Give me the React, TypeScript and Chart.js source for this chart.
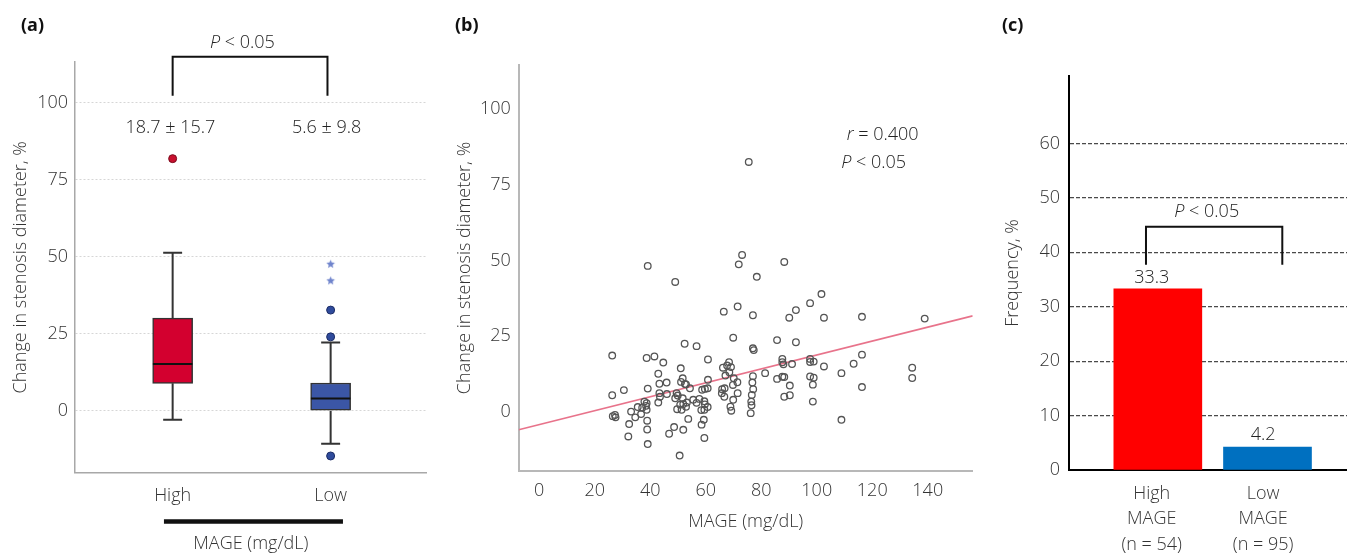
import React, { useEffect, useRef } from 'react';
import { Chart, registerables } from 'chart.js';

Chart.register(...registerables);

const FONT = "'Open Sans', 'Noto Sans', sans-serif";
const TEXT = '#333333';
const WEIGHT = 300;
Chart.defaults.font.family = FONT;
Chart.defaults.font.weight = WEIGHT as any;
Chart.defaults.color = TEXT;

// ---------- Panel (a): box plot ----------
const groups = ['High', 'Low'];
const boxQ1 = [8.9, 0.0];
const boxQ3 = [30.1, 9.0];
const boxMedian = [15.2, 4.0];
const whiskerMin = [-2.9, -10.7];
const whiskerMax = [51.3, 22.2];
const highOutliers = [81.9];
const lowOutliers = [32.7, 24.0, -14.7];
const lowExtremes = [47.6, 42.2];
const meanSd = ['18.7 ± 15.7', '5.6 ± 9.8'];
const yTicksA = [0, 25, 50, 75, 100];

// ---------- Panel (b): scatter ----------
const mage = [
  75.5, 39.1, 49.0, 73.1, 71.9, 88.3, 78.4, 66.5, 71.5, 77.0,
  90.1, 92.5, 101.7, 97.6, 102.6, 116.3, 138.9, 116.3, 97.6, 98.9,
  97.6, 102.6, 113.3, 108.9, 134.4, 134.4, 97.6, 98.9, 98.6, 116.3,
  98.6, 108.9, 69.9, 85.7, 92.5, 77.0, 77.3, 60.8, 68.4, 66.2,
  67.7, 69.1, 68.5, 67.1, 87.6, 87.6, 88.0, 91.1, 81.4, 77.0,
  76.8, 77.1, 76.6, 76.4, 76.5, 76.2, 85.7, 87.6, 88.3, 90.3,
  88.3, 90.3, 60.8, 70.1, 71.4, 69.8, 71.5, 65.9, 66.8, 65.8,
  66.7, 69.9, 68.9, 69.2, 58.7, 59.7, 60.7, 56.7, 59.5, 59.7,
  60.7, 58.4, 59.5, 59.3, 58.5, 59.5, 52.4, 56.7, 26.3, 38.7,
  41.5, 44.7, 42.9, 51.0, 51.7, 51.1, 52.5, 43.3, 45.9, 30.5,
  26.3, 39.1, 43.3, 46.0, 49.5, 49.9, 49.0, 54.3, 52.9, 55.5,
  57.7, 51.7, 51.9, 50.8, 52.9, 51.3, 49.7, 53.2, 37.9, 38.7,
  38.5, 35.5, 37.1, 38.7, 33.1, 36.7, 34.6, 26.5, 27.5, 27.3,
  38.9, 53.7, 32.4, 48.6, 51.9, 38.9, 46.8, 32.1, 39.1, 50.6,
  42.9, 43.5,
];
const stenosisChange = [
  82.5, 48.2, 42.9, 51.8, 48.7, 49.5, 44.6, 33.1, 34.8, 31.9,
  31.1, 33.6, 38.9, 35.9, 31.1, 31.4, 30.8, 18.9, 17.5, 16.6,
  16.5, 15.0, 15.9, 12.8, 14.6, 11.2, 11.7, 11.3, 9.0, 8.2,
  3.4, -2.6, 24.5, 23.7, 23.0, 21.0, 20.4, 17.3, 16.4, 14.6,
  15.3, 14.8, 13.1, 12.0, 17.5, 16.4, 15.7, 15.8, 12.8, 11.8,
  9.7, 7.5, 5.6, 3.4, 2.2, -0.4, 10.9, 11.6, 11.5, 8.7,
  5.0, 5.5, 10.6, 11.1, 9.8, 8.9, 6.2, 7.5, 7.8, 6.2,
  5.0, 4.0, 1.7, 0.4, 7.3, 7.6, 7.8, 3.0, 3.5, 2.5,
  1.6, 0.6, 0.7, -2.6, -4.2, -8.6, 22.5, 21.7, 18.6, 17.8,
  18.3, 16.3, 12.6, 14.4, 11.1, 9.9, 9.2, 9.3, 9.7, 7.2,
  5.5, 7.7, 6.2, 5.9, 6.2, 5.4, 4.5, 7.8, 9.1, 4.0,
  4.3, 4.5, 2.6, 2.4, 1.7, 0.7, 0.9, 3.1, 3.4, 2.9,
  2.0, 1.6, 1.4, 0.7, 0.1, -0.7, -1.8, -1.4, -1.8, -1.0,
  -2.9, -2.3, -4.0, -5.0, -5.9, -5.8, -7.2, -8.1, -10.6, -14.4,
  3.1, 5.0,
];
const fitLineX = [-7.4, 156.2];
const fitLineY = [-5.9, 31.7];
const corrText = '0.400';

// ---------- Panel (c): bars ----------
const freqGroups = [['High', 'MAGE', '(n = 54)'], ['Low', 'MAGE', '(n = 95)']];
const frequency = [33.3, 4.2];
const pText = '< 0.05';

type Seg = { t: string; italic?: boolean };
type Note = { x: number; y: number; segs: Seg[]; align?: 'left' | 'center' };

function notesPlugin(items: Note[]) {
  return {
    id: 'notes',
    afterDatasetsDraw(chart: any) {
      const { ctx } = chart;
      const xs = chart.scales.x;
      const ys = chart.scales.y;
      ctx.save();
      ctx.fillStyle = '#222';
      ctx.textBaseline = 'middle';
      ctx.textAlign = 'left';
      const fontOf = (s: Seg) => `${s.italic ? 'italic ' : ''}${WEIGHT} 18px ${FONT}`;
      for (const n of items) {
        const px = xs.getPixelForValue(n.x);
        const py = ys.getPixelForValue(n.y);
        let total = 0;
        for (const s of n.segs) {
          ctx.font = fontOf(s);
          total += ctx.measureText(s.t).width;
        }
        let cx = n.align === 'left' ? px : px - total / 2;
        for (const s of n.segs) {
          ctx.font = fontOf(s);
          ctx.fillText(s.t, cx, py);
          cx += ctx.measureText(s.t).width;
        }
      }
      ctx.restore();
    },
  };
}

function makeStar(color: string, r: number) {
  const c = document.createElement('canvas');
  const s = Math.ceil(r * 2 + 2);
  c.width = s;
  c.height = s;
  const g = c.getContext('2d')!;
  g.fillStyle = color;
  g.beginPath();
  for (let k = 0; k < 10; k++) {
    const ang = -Math.PI / 2 + (k * Math.PI) / 5;
    const rr = k % 2 === 0 ? r : r * 0.45;
    const x = s / 2 + rr * Math.cos(ang);
    const y = s / 2 + rr * Math.sin(ang);
    if (k === 0) g.moveTo(x, y);
    else g.lineTo(x, y);
  }
  g.closePath();
  g.fill();
  return c;
}

const baseOpts = {
  animation: false as const,
  responsive: false,
  maintainAspectRatio: false,
  events: [] as any[],
};

function configA(): any {
  const whiskers: any[] = [];
  const medians: any[] = [];
  groups.forEach((_, i) => {
    const cx = i + 1;
    whiskers.push({ x: cx, y: whiskerMin[i] }, { x: cx, y: boxQ1[i] }, { x: cx, y: null });
    whiskers.push({ x: cx, y: boxQ3[i] }, { x: cx, y: whiskerMax[i] }, { x: cx, y: null });
    whiskers.push({ x: cx - 0.06, y: whiskerMin[i] }, { x: cx + 0.06, y: whiskerMin[i] }, { x: cx, y: null });
    whiskers.push({ x: cx - 0.06, y: whiskerMax[i] }, { x: cx + 0.06, y: whiskerMax[i] }, { x: cx, y: null });
    medians.push({ x: cx - 0.125, y: boxMedian[i] }, { x: cx + 0.125, y: boxMedian[i] }, { x: cx, y: null });
  });
  const star = makeStar('#6f84cc', 4.5);
  return {
    type: 'bar',
    data: {
      datasets: [
        {
          type: 'bar',
          data: groups.map((_, i) => ({ x: i + 1, y: [boxQ1[i], boxQ3[i]] })),
          backgroundColor: ['#d3002f', '#3b56a6'],
          borderColor: '#333',
          borderWidth: 1.5,
          borderSkipped: false,
          barThickness: 40,
          order: 3,
        },
        {
          type: 'line', data: whiskers, borderColor: '#333', borderWidth: 2,
          pointRadius: 0, spanGaps: false, clip: false, order: 2,
        },
        {
          type: 'line', data: medians, borderColor: '#111', borderWidth: 2,
          pointRadius: 0, spanGaps: false, clip: false, order: 1,
        },
        {
          type: 'line', showLine: false, data: highOutliers.map((y) => ({ x: 1, y })),
          pointRadius: 4, pointBackgroundColor: '#c8102e', pointBorderColor: '#7a0a1c', pointBorderWidth: 1, order: 1,
        },
        {
          type: 'line', showLine: false, data: lowOutliers.map((y) => ({ x: 2, y })),
          pointRadius: 4, pointBackgroundColor: '#2f4b9c', pointBorderColor: '#1c2d66', pointBorderWidth: 1, order: 1,
        },
        {
          type: 'line', showLine: false, data: lowExtremes.map((y) => ({ x: 2, y })),
          pointStyle: star, pointRadius: 5, order: 1,
        },
        {
          type: 'line',
          data: [{ x: 1.0, y: 102.3 }, { x: 1.0, y: 115.0 }, { x: 1.98, y: 115.0 }, { x: 1.98, y: 102.3 }],
          borderColor: '#111', borderWidth: 2, pointRadius: 0, clip: false, order: 1,
        },
        {
          type: 'line',
          data: [{ x: 0.945, y: -36 }, { x: 2.078, y: -36 }],
          borderColor: '#111', borderWidth: 4.5, pointRadius: 0, clip: false, order: 1,
        },
      ],
    },
    options: {
      ...baseOpts,
      layout: { padding: { top: 62, right: 13.3, bottom: 0, left: 0 } },
      plugins: { legend: { display: false }, tooltip: { enabled: false } },
      scales: {
        x: {
          type: 'linear', min: 0.382, max: 2.608, offset: false,
          afterBuildTicks: (s: any) => { s.ticks = groups.map((_, i) => ({ value: i + 1 })); },
          afterFit: (s: any) => { s.height = 82.4; },
          ticks: {
            callback: (_v: any, i: number) => groups[i] ?? '',
            font: { size: 18 }, color: TEXT, padding: 12, autoSkip: false, maxRotation: 0,
          },
          grid: { display: false, drawTicks: false, offset: false },
          border: { color: '#a8a8a8', width: 1.5 },
          title: { display: true, text: 'MAGE (mg/dL)', font: { size: 18 }, color: TEXT, padding: { top: 0, bottom: 0 } },
        },
        y: {
          type: 'linear', min: -20.1, max: 113.3,
          afterBuildTicks: (s: any) => { s.ticks = yTicksA.map((v) => ({ value: v })); },
          afterFit: (s: any) => { s.width = 75; },
          ticks: { font: { size: 18 }, color: TEXT, padding: 7 },
          grid: { color: '#d6d6d6', lineWidth: 1, drawTicks: false },
          border: { color: '#a8a8a8', width: 1.5, dash: [2, 2] },
          title: {
            display: true, text: 'Change in stenosis diameter, %', font: { size: 18 }, color: TEXT,
            padding: { top: 10, bottom: 0 },
          },
        },
      },
    },
    plugins: [
      notesPlugin([
        { x: 1.442, y: 119.4, segs: [{ t: 'P', italic: true }, { t: ' ' + pText }] },
        { x: 0.986, y: 91.8, segs: [{ t: meanSd[0] }] },
        { x: 1.975, y: 91.8, segs: [{ t: meanSd[1] }] },
      ]),
    ],
  };
}

function configB(): any {
  return {
    type: 'scatter',
    data: {
      datasets: [
        {
          type: 'line',
          data: fitLineX.map((x, i) => ({ x, y: fitLineY[i] })),
          borderColor: '#e8738b', borderWidth: 1.6, pointRadius: 0, order: 2,
        },
        {
          type: 'scatter',
          data: mage.map((x, i) => ({ x, y: stenosisChange[i] })),
          pointRadius: 3.3, pointBorderWidth: 1.3,
          pointBorderColor: '#555', pointBackgroundColor: 'rgba(255,255,255,0)', order: 1,
        },
      ],
    },
    options: {
      ...baseOpts,
      layout: { padding: { top: 65, right: 17.3, bottom: 22, left: 0 } },
      plugins: { legend: { display: false }, tooltip: { enabled: false } },
      scales: {
        x: {
          type: 'linear', min: -7.4, max: 156.2, offset: false,
          afterFit: (s: any) => { s.height = 62; },
          ticks: { stepSize: 20, includeBounds: false, font: { size: 18 }, color: TEXT, padding: 9, maxRotation: 0 },
          grid: { display: false, drawTicks: false },
          border: { color: '#b8b8b8', width: 2 },
          title: { display: true, text: 'MAGE (mg/dL)', font: { size: 18 }, color: TEXT, padding: { top: 0, bottom: 0 } },
        },
        y: {
          type: 'linear', min: -19.5, max: 114.5,
          afterFit: (s: any) => { s.width = 78.7; },
          ticks: { stepSize: 25, includeBounds: false, font: { size: 18 }, color: TEXT, padding: 8 },
          grid: { display: false, drawTicks: false },
          border: { color: '#b8b8b8', width: 2 },
          title: {
            display: true, text: 'Change in stenosis diameter, %', font: { size: 18 }, color: TEXT,
            padding: { top: 14, bottom: 0 },
          },
        },
      },
    },
    plugins: [
      notesPlugin([
        { x: 110.8, y: 91.4, align: 'left', segs: [{ t: 'r', italic: true }, { t: ' = ' + corrText }] },
        { x: 108.8, y: 82.1, align: 'left', segs: [{ t: 'P', italic: true }, { t: ' ' + pText }] },
      ]),
    ],
  };
}

function configC(): any {
  const labelPos = [0.944, 1.96];
  return {
    type: 'bar',
    data: {
      datasets: [
        {
          type: 'bar',
          data: frequency.map((y, i) => ({ x: i + 1, y })),
          backgroundColor: ['#ff0000', '#0070c0'],
          borderWidth: 0,
          barThickness: 88,
          order: 2,
        },
        {
          type: 'line',
          data: [{ x: 0.892, y: 37.7 }, { x: 0.892, y: 44.7 }, { x: 2.135, y: 44.7 }, { x: 2.135, y: 37.7 }],
          borderColor: '#111', borderWidth: 2, pointRadius: 0, clip: false, order: 1,
        },
      ],
    },
    options: {
      ...baseOpts,
      layout: { padding: { top: 76, right: 0, bottom: 0, left: 0 } },
      plugins: { legend: { display: false }, tooltip: { enabled: false } },
      scales: {
        x: {
          type: 'linear', min: 0.19, max: 2.725, offset: false,
          afterBuildTicks: (s: any) => { s.ticks = labelPos.map((v) => ({ value: v })); },
          afterFit: (s: any) => { s.height = 85; },
          ticks: {
            callback: (_v: any, i: number) => freqGroups[i] ?? '',
            font: { size: 18, lineHeight: 1.42 }, color: TEXT, padding: 11, autoSkip: false, maxRotation: 0,
          },
          grid: { display: false, drawTicks: false, offset: false },
          border: { color: '#000', width: 2 },
        },
        y: {
          type: 'linear', min: 0, max: 72.4,
          afterFit: (s: any) => { s.width = 79; },
          ticks: {
            stepSize: 10, includeBounds: false, font: { size: 18 }, color: TEXT, padding: 9,
            callback: (v: any) => (v <= 60 ? String(v) : ''),
          },
          grid: {
            drawTicks: false, lineWidth: 1.2,
            color: (c: any) => (c.tick && c.tick.value > 0 && c.tick.value <= 60 ? '#4a4a4a' : 'rgba(0,0,0,0)'),
          },
          border: { color: '#000', width: 2, dash: [4, 2] },
          title: { display: true, text: 'Frequency, %', font: { size: 18 }, color: TEXT, padding: { top: 12, bottom: 0 } },
        },
      },
    },
    plugins: [
      notesPlugin([
        { x: 1.446, y: 47.4, segs: [{ t: 'P', italic: true }, { t: ' ' + pText }] },
        { x: 0.944, y: 35.3, segs: [{ t: frequency[0].toFixed(1) }] },
        { x: 1.96, y: 6.4, segs: [{ t: frequency[1].toFixed(1) }] },
      ]),
    ],
  };
}

function ChartPanel({ left, width, make }: { left: number; width: number; make: () => any }) {
  const ref = useRef<HTMLCanvasElement>(null);
  useEffect(() => {
    const chart = new Chart(ref.current!, make());
    return () => chart.destroy();
  }, []);
  return (
    <canvas
      ref={ref}
      width={width}
      height={555}
      style={{ position: 'absolute', left, top: 0, width, height: 555 }}
    />
  );
}

const labelStyle: React.CSSProperties = {
  position: 'absolute',
  top: 12,
  fontFamily: FONT,
  fontWeight: 700,
  fontSize: 18,
  lineHeight: '24px',
  color: '#111',
};

export default function App() {
  return (
    <div
      style={{
        position: 'fixed', left: 0, top: 0, width: 1347, height: 555,
        background: '#fff', overflow: 'hidden',
      }}
    >
      <ChartPanel left={0} width={440} make={configA} />
      <ChartPanel left={440} width={550} make={configB} />
      <ChartPanel left={990} width={357} make={configC} />
      <div style={{ ...labelStyle, left: 21 }}>(a)</div>
      <div style={{ ...labelStyle, left: 455 }}>(b)</div>
      <div style={{ ...labelStyle, left: 1002 }}>(c)</div>
    </div>
  );
}
